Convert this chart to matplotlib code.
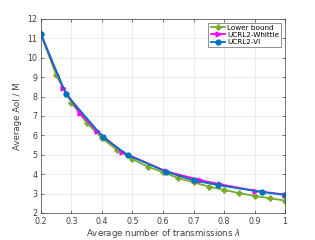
import matplotlib
matplotlib.use("Agg")
import matplotlib.pyplot as plt

lb_x = [0.2, 0.25, 0.3, 0.35, 0.4, 0.45, 0.5, 0.55, 0.6, 0.65, 0.7, 0.75, 0.8, 0.85, 0.9, 0.95, 1.0]
lb_y = [11.2, 9.1, 7.68, 6.65, 5.85, 5.25, 4.77, 4.39, 4.1, 3.8, 3.58, 3.36, 3.19, 3.02, 2.88, 2.76, 2.64]

wh_x = [0.2, 0.273, 0.328, 0.383, 0.467, 0.61, 0.72, 0.787, 0.90, 1.0]
wh_y = [11.2, 8.43, 7.14, 6.23, 5.13, 4.15, 3.70, 3.48, 3.15, 2.95]

vi_x = [0.2, 0.282, 0.404, 0.484, 0.61, 0.70, 0.78, 0.924, 1.0]
vi_y = [11.22, 8.13, 5.9, 4.99, 4.13, 3.68, 3.44, 3.08, 2.93]

xticks = [0.2, 0.3, 0.4, 0.5, 0.6, 0.7, 0.8, 0.9, 1]
yticks = [2, 3, 4, 5, 6, 7, 8, 9, 10, 11, 12]

fig = plt.figure(figsize=(3.15, 2.4), dpi=100)
ax = fig.add_axes([0.130, 0.1125, 0.775, 0.8085])

ax.plot(lb_x, lb_y, color="#77AC30", marker="P", markersize=3.5, lw=1.3, label="Lower bound")
ax.plot(wh_x, wh_y, color="#FF00FF", marker=">", markersize=3.5, lw=1.3, label="UCRL2-Whittle")
ax.plot(vi_x, vi_y, color="#0072BD", marker="o", markersize=3.5, lw=1.3, label="UCRL2-VI")

ax.set_xlim(0.2, 1.0)
ax.set_ylim(2, 12)
ax.set_xticks(xticks)
ax.set_xticklabels([str(t) for t in xticks])
ax.set_yticks(yticks)
ax.tick_params(direction="in", labelsize=5.8, length=2.5, width=0.5, colors="#404040", top=True, right=True)
ax.tick_params(axis="x", pad=3)
ax.tick_params(axis="y", pad=2.5)
ax.grid(True, color="#e6e6e6", lw=0.5)
ax.set_axisbelow(True)
for s in ax.spines.values():
    s.set_color("#404040")
    s.set_linewidth(0.5)
ax.set_xlabel(r"Average number of transmissions $\lambda$", fontsize=6.2, color="#404040", labelpad=0.5)
ax.set_ylabel("Average AoI / M", fontsize=6.2, color="#404040", labelpad=4)

leg = ax.legend(loc="upper right", fontsize=5.2, frameon=True, fancybox=False,
                edgecolor="#404040", handlelength=2.0, borderpad=0.3, labelspacing=0.15,
                handletextpad=0.3, borderaxespad=0.5)
leg.get_frame().set_linewidth(0.5)

fig.savefig("out.png", dpi=100)
